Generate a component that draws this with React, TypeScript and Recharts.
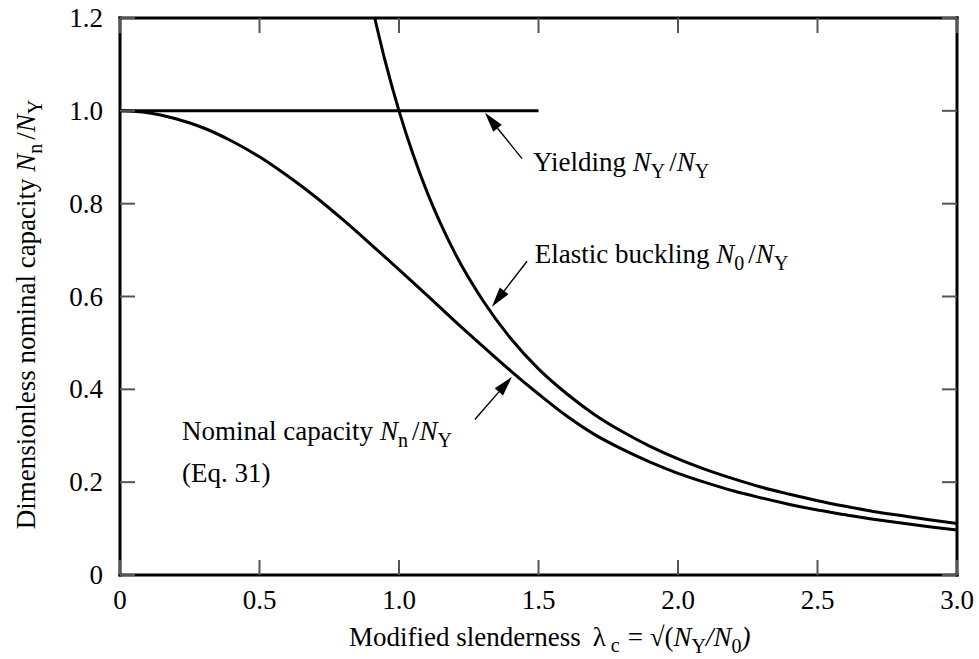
import { LineChart, Line, XAxis, YAxis, ReferenceLine, ReferenceDot } from 'recharts';

// column strength curves
const yieldX = [0, 1.5];
const yieldY = [1, 1];

const elasticX = [0.913, 0.95, 1.0, 1.05, 1.1, 1.15, 1.2, 1.3, 1.4, 1.5, 1.6, 1.7, 1.8, 1.9, 2.0, 2.1, 2.2, 2.3, 2.4, 2.5, 2.6, 2.7, 2.8, 2.9, 3.0];
const elasticY = [1.2, 1.108, 1.0, 0.907, 0.826, 0.756, 0.694, 0.592, 0.51, 0.444, 0.391, 0.346, 0.309, 0.277, 0.25, 0.227, 0.207, 0.189, 0.174, 0.16, 0.148, 0.137, 0.128, 0.119, 0.111];

const nominalX = [0, 0.1, 0.2, 0.3, 0.4, 0.5, 0.6, 0.7, 0.8, 0.9, 1.0, 1.1, 1.2, 1.3, 1.4, 1.5, 1.6, 1.7, 1.8, 1.9, 2.0, 2.1, 2.2, 2.3, 2.4, 2.5, 2.6, 2.7, 2.8, 2.9, 3.0];
const nominalY = [1.0, 0.996, 0.983, 0.963, 0.935, 0.901, 0.86, 0.815, 0.765, 0.712, 0.658, 0.603, 0.547, 0.493, 0.44, 0.39, 0.343, 0.303, 0.271, 0.243, 0.219, 0.199, 0.181, 0.166, 0.152, 0.14, 0.13, 0.12, 0.112, 0.104, 0.097];

const xTicks = [0, 0.5, 1.0, 1.5, 2.0, 2.5, 3.0];
const xTickLabels = ['0', '0.5', '1.0', '1.5', '2.0', '2.5', '3.0'];
const yTicks = [0, 0.2, 0.4, 0.6, 0.8, 1.0, 1.2];
const yTickLabels = ['0', '0.2', '0.4', '0.6', '0.8', '1.0', '1.2'];

const toPoints = (xs: number[], ys: number[]) => xs.map((x, i) => ({ x, y: ys[i] }));
const yieldData = toPoints(yieldX, yieldY);
const elasticData = toPoints(elasticX, elasticY);
const nominalData = toPoints(nominalX, nominalY);

const FONT = '"Liberation Serif", "Times New Roman", serif';
const FS = 27;
const SUB = 20;
const TICK_LEN = 15;
const TICK_COLOR = '#555';

const labelOf = (ticks: number[], labels: string[], v: number) => labels[ticks.indexOf(v)] ?? String(v);

const BottomTick = (props: any) => {
  const { x, y, payload } = props;
  return (
    <g>
      <line x1={x} y1={y} x2={x} y2={y - TICK_LEN} stroke={TICK_COLOR} strokeWidth={2} />
      <text x={x} y={y + 34} textAnchor="middle" fontSize={FS} fontFamily={FONT} fill="#000">
        {labelOf(xTicks, xTickLabels, payload.value)}
      </text>
    </g>
  );
};

const TopTick = (props: any) => {
  const { x, y } = props;
  return <line x1={x} y1={y} x2={x} y2={y + TICK_LEN} stroke={TICK_COLOR} strokeWidth={2} />;
};

const LeftTick = (props: any) => {
  const { x, y, payload } = props;
  return (
    <g>
      <line x1={x} y1={y} x2={x + TICK_LEN} y2={y} stroke={TICK_COLOR} strokeWidth={2} />
      <text x={x - 17} y={y + 9} textAnchor="end" fontSize={FS} fontFamily={FONT} fill="#000">
        {labelOf(yTicks, yTickLabels, payload.value)}
      </text>
    </g>
  );
};

const RightTick = (props: any) => {
  const { x, y } = props;
  return <line x1={x} y1={y} x2={x - TICK_LEN} y2={y} stroke={TICK_COLOR} strokeWidth={2} />;
};

const Arrow = (props: any) => {
  const { x1, y1, x2, y2 } = props;
  const dx = x2 - x1;
  const dy = y2 - y1;
  const len = Math.sqrt(dx * dx + dy * dy);
  const ux = dx / len;
  const uy = dy / len;
  const hl = 20;
  const hw = 5.5;
  const bx = x2 - ux * hl;
  const by = y2 - uy * hl;
  return (
    <g>
      <line x1={x1} y1={y1} x2={bx} y2={by} stroke="#000" strokeWidth={1.4} />
      <polygon
        points={`${x2},${y2} ${bx - uy * hw},${by + ux * hw} ${bx + uy * hw},${by - ux * hw}`}
        fill="#000"
      />
    </g>
  );
};

const Ratio = ({ top, sub }: { top: string; sub: string }) => (
  <>
    <tspan fontStyle="italic">N</tspan>
    <tspan fontSize={SUB} dy={7}>{top}</tspan>
    <tspan dy={-7} dx={4}>/</tspan>
    <tspan fontStyle="italic">N</tspan>
    <tspan fontSize={SUB} dy={7}>{sub}</tspan>
  </>
);

const textShape = (render: (x: number, y: number) => any) => (props: any) => render(props.cx, props.cy);

const axisLine = { stroke: '#000', strokeWidth: 3, strokeLinecap: 'square' as const };

export default function App() {
  return (
    <div style={{ position: 'absolute', left: 0, top: 0, background: '#fff' }}>
      <LineChart width={979} height={659} margin={{ top: 17, right: 21, bottom: 0, left: 0 }}>
        <XAxis
          dataKey="x"
          type="number"
          domain={[0, 3]}
          ticks={xTicks}
          interval={0}
          height={84}
          tickSize={0}
          tickMargin={0}
          tickLine={false}
          axisLine={axisLine}
          tick={<BottomTick />}
          label={{
            content: (p: any) => {
              const vb = p.viewBox;
              return (
                <text x={vb.x + 229} y={vb.y + 71} fontSize={FS} fontFamily={FONT} fill="#000">
                  Modified slenderness
                  <tspan dx={12}>λ</tspan>
                  <tspan fontSize={SUB} dx={5} dy={6}>c</tspan>
                  <tspan dy={-6} dx={8}>= √(</tspan>
                  <tspan fontStyle="italic">N</tspan>
                  <tspan fontSize={SUB} dy={7}>Y</tspan>
                  <tspan dy={-7} fontStyle="italic">/N</tspan>
                  <tspan fontSize={SUB} dy={7}>0</tspan>
                  <tspan dy={-7} fontStyle="italic">)</tspan>
                </text>
              );
            },
          }}
        />
        <XAxis
          xAxisId="top"
          orientation="top"
          dataKey="x"
          type="number"
          domain={[0, 3]}
          ticks={xTicks}
          interval={0}
          height={1}
          tickSize={0}
          tickMargin={0}
          tickLine={false}
          axisLine={axisLine}
          tick={<TopTick />}
        />
        <YAxis
          type="number"
          domain={[0, 1.2]}
          ticks={yTicks}
          interval={0}
          width={120}
          tickSize={0}
          tickMargin={0}
          tickLine={false}
          axisLine={axisLine}
          tick={<LeftTick />}
          label={{
            content: (p: any) => {
              const vb = p.viewBox;
              const cx = vb.x + 35;
              const cy = vb.y + vb.height / 2 + 18;
              return (
                <text
                  x={cx}
                  y={cy}
                  transform={`rotate(-90, ${cx}, ${cy})`}
                  textAnchor="middle"
                  fontSize={FS}
                  fontFamily={FONT}
                  fill="#000"
                >
                  Dimensionless nominal capacity{' '}
                  <tspan fontStyle="italic">N</tspan>
                  <tspan fontSize={SUB} dy={7}>n</tspan>
                  <tspan dy={-7} dx={4}>/</tspan>
                  <tspan fontStyle="italic">N</tspan>
                  <tspan fontSize={SUB} dy={7}>Y</tspan>
                </text>
              );
            },
          }}
        />
        <YAxis
          yAxisId="right"
          orientation="right"
          type="number"
          domain={[0, 1.2]}
          ticks={yTicks}
          interval={0}
          width={1}
          tickSize={0}
          tickMargin={0}
          tickLine={false}
          axisLine={axisLine}
          tick={<RightTick />}
        />

        <Line data={yieldData} dataKey="y" type="linear" stroke="#000" strokeWidth={3} dot={false} activeDot={false} isAnimationActive={false} />
        <Line
          data={elasticData}
          dataKey="y"
          xAxisId="top"
          yAxisId="right"
          type="monotone"
          stroke="#000"
          strokeWidth={3}
          dot={false}
          activeDot={false}
          isAnimationActive={false}
        />
        <Line data={nominalData} dataKey="y" type="monotone" stroke="#000" strokeWidth={3} dot={false} activeDot={false} isAnimationActive={false} />

        <ReferenceLine segment={[{ x: 1.441, y: 0.897 }, { x: 1.308, y: 0.996 }]} shape={<Arrow />} />
        <ReferenceLine segment={[{ x: 1.459, y: 0.676 }, { x: 1.333, y: 0.578 }]} shape={<Arrow />} />
        <ReferenceLine segment={[{ x: 1.272, y: 0.335 }, { x: 1.405, y: 0.427 }]} shape={<Arrow />} />

        <ReferenceDot
          x={1.48}
          y={0.87}
          r={0}
          shape={textShape((x, y) => (
            <text x={x} y={y} fontSize={FS} fontFamily={FONT} fill="#000">
              Yielding <Ratio top="Y" sub="Y" />
            </text>
          ))}
        />
        <ReferenceDot
          x={1.487}
          y={0.673}
          r={0}
          shape={textShape((x, y) => (
            <text x={x} y={y} fontSize={FS} fontFamily={FONT} fill="#000">
              Elastic buckling <Ratio top="0" sub="Y" />
            </text>
          ))}
        />
        <ReferenceDot
          x={0.222}
          y={0.291}
          r={0}
          shape={textShape((x, y) => (
            <text x={x} y={y} fontSize={FS} fontFamily={FONT} fill="#000">
              Nominal capacity <Ratio top="n" sub="Y" />
              <tspan x={x} dy={42 - 7}>(Eq. 31)</tspan>
            </text>
          ))}
        />
      </LineChart>
    </div>
  );
}
